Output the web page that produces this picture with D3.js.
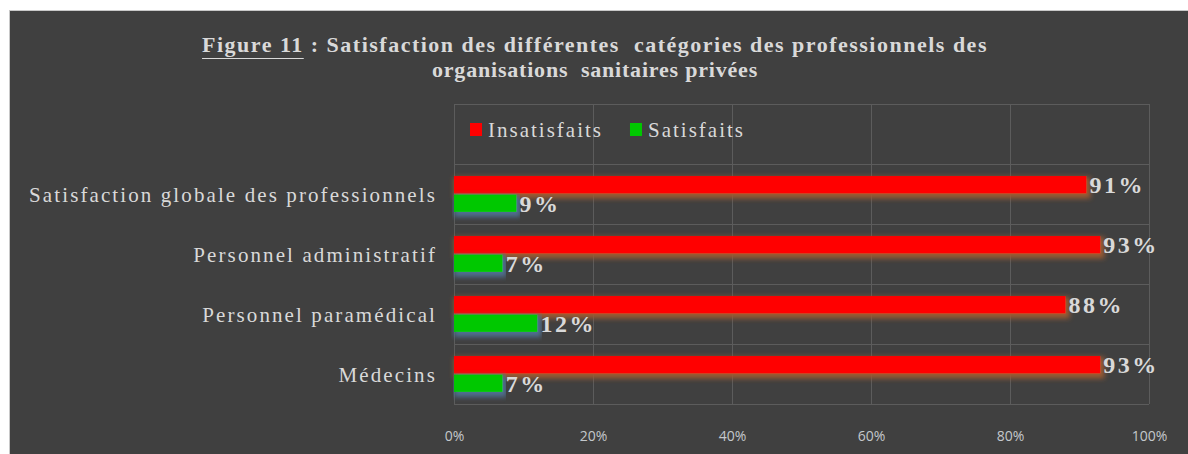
<!DOCTYPE html>
<html>
<head>
<meta charset="utf-8">
<script src="https://cdn.jsdelivr.net/npm/d3@7"></script>
<style>
  html, body { margin: 0; padding: 0; background: #fff; }
  svg { display: block; }
  .serif { font-family: "Liberation Serif", "Times New Roman", serif; white-space: pre; }
  .axis-lbl { font-family: "Open Sans", "Liberation Sans", sans-serif; font-size: 14px; fill: #c4c8cc; }
</style>
</head>
<body>
<div id="chart"></div>
<script>
// values
const categories = [
  "Satisfaction globale des professionnels",
  "Personnel administratif",
  "Personnel paramédical",
  "Médecins"
];
const series = ["Insatisfaits", "Satisfaits"];
const insatisfaits = [91, 93, 88, 93];
const satisfaits = [9, 7, 12, 7];
const xTicks = [0, 20, 40, 60, 80, 100];
const titleLines = [
  ["Figure 11", " : Satisfaction des différentes  catégories des professionnels des"],
  ["", "organisations  sanitaires privées"]
];

const W = 1188, H = 454;
const INK = "#d9d9d9";
const colors = { Insatisfaits: "#ff0000", Satisfaits: "#00c800" };
const glow = { Insatisfaits: "#9c5a30", Satisfaits: "#4f7090" };

const svg = d3.select("#chart").append("svg")
  .attr("width", W).attr("height", H);

// chart frame (white page margin top/left)
svg.append("rect").attr("x", 9.5).attr("y", 10.5)
  .attr("width", W - 9).attr("height", H - 10)
  .attr("fill", "#404040").attr("stroke", "#c8c8c8");

// glow filters, one per series
const defs = svg.append("defs");
for (const s of series) {
  const f = defs.append("filter").attr("id", "glow-" + s)
    .attr("x", "-5%").attr("y", "-80%").attr("width", "110%").attr("height", "260%");
  f.append("feFlood").attr("flood-color", glow[s]).attr("flood-opacity", 1);
  f.append("feComposite").attr("in2", "SourceAlpha").attr("operator", "in");
  f.append("feMorphology").attr("operator", "dilate").attr("radius", 1.5);
  f.append("feGaussianBlur").attr("stdDeviation", 2.8);
  f.append("feOffset").attr("dx", 2).attr("dy", 2.5).attr("result", "g");
  const mg = f.append("feMerge");
  mg.append("feMergeNode").attr("in", "g");
  mg.append("feMergeNode").attr("in", "SourceGraphic");
}

const m = { top: 104, bottom: 404, left: 454, right: 1149 };
const x = d3.scaleLinear([0, 100], [m.left, m.right]);
// first row of the plot area is an empty slot (legend sits there)
const y = d3.scaleBand(categories, [m.top + (m.bottom - m.top) / 5, m.bottom]);
const sub = d3.scaleBand(series, [0, y.bandwidth()])
  .paddingInner(0.06).paddingOuter(0.65);

// gridlines
const grid = svg.append("g").attr("stroke", "#5c5c5c").attr("stroke-width", 1);
grid.selectAll(".v").data(xTicks).join("line")
  .attr("x1", d => Math.round(x(d)) + 0.5).attr("x2", d => Math.round(x(d)) + 0.5)
  .attr("y1", m.top).attr("y2", m.bottom);
const hLines = [m.top, ...categories.map(c => y(c)), m.bottom];
grid.selectAll(".h").data(hLines).join("line")
  .attr("x1", m.left).attr("x2", m.right)
  .attr("y1", d => Math.round(d) + 0.5).attr("y2", d => Math.round(d) + 0.5);

// x axis labels
svg.append("g").attr("transform", `translate(0,${H - 13})`)
  .call(d3.axisBottom(x).tickValues(xTicks).tickFormat(d => d + "%").tickSize(0))
  .call(g => g.select(".domain").remove())
  .call(g => g.selectAll("text").attr("class", "axis-lbl").attr("dy", 0).attr("y", 0)
    .attr("fill", null).attr("font-size", null).attr("font-family", null));

// bars
const rows = categories.map((c, i) => ({ c, Insatisfaits: insatisfaits[i], Satisfaits: satisfaits[i] }));
for (const s of series) {
  const g = svg.append("g");
  g.selectAll("rect").data(rows).join("rect")
    .attr("x", x(0))
    .attr("y", d => y(d.c) + sub(s))
    .attr("width", d => x(d[s]) - x(0))
    .attr("height", sub.bandwidth())
    .attr("fill", colors[s])
    .attr("filter", `url(#glow-${s})`);
  g.selectAll("text").data(rows).join("text")
    .attr("class", "serif")
    .attr("x", d => x(d[s]) + 3)
    .attr("y", d => y(d.c) + sub(s) + sub.bandwidth() / 2)
    .attr("dy", "0.35em")
    .attr("font-size", 24).attr("font-weight", "bold")
    .attr("letter-spacing", 2.5)
    .attr("fill", INK)
    .text(d => d[s] + "%");
}

// category labels
svg.append("g").selectAll("text").data(categories).join("text")
  .attr("class", "serif")
  .attr("x", 437).attr("y", d => y(d) + y.bandwidth() / 2 + 1)
  .attr("dy", "0.35em").attr("text-anchor", "end")
  .attr("font-size", 21).attr("letter-spacing", 2.1)
  .attr("fill", INK)
  .text(d => d);

// legend
const leg = svg.append("g").attr("transform", "translate(470,130)");
let lx = 0;
series.forEach((s, i) => {
  const it = leg.append("g").attr("transform", `translate(${lx},0)`);
  it.append("rect").attr("x", 0).attr("y", -7).attr("width", 12).attr("height", 13)
    .attr("fill", colors[s]);
  const t = it.append("text").attr("class", "serif")
    .attr("x", 18).attr("y", 0).attr("dy", "0.35em")
    .attr("font-size", 21).attr("letter-spacing", 2)
    .attr("fill", INK).text(s);
  lx += 18 + t.node().getComputedTextLength() + 27;
});

// title
const title = svg.append("g");
titleLines.forEach(([u, rest], i) => {
  const t = title.append("text").attr("class", "serif")
    .attr("x", 595).attr("y", 52 + i * 25)
    .attr("text-anchor", "middle")
    .attr("font-size", 22).attr("font-weight", "bold")
    .attr("letter-spacing", i === 0 ? 1.5 : 0.8)
    .attr("fill", INK);
  if (u) t.append("tspan").text(u);
  t.append("tspan").text(rest);
  if (u) {
    const bb = t.node().getBBox();
    const uw = t.node().getSubStringLength(0, u.length);
    title.append("line")
      .attr("x1", bb.x).attr("x2", bb.x + uw)
      .attr("y1", 58.5).attr("y2", 58.5)
      .attr("stroke", INK).attr("stroke-width", 1);
  }
});
</script>
</body>
</html>
